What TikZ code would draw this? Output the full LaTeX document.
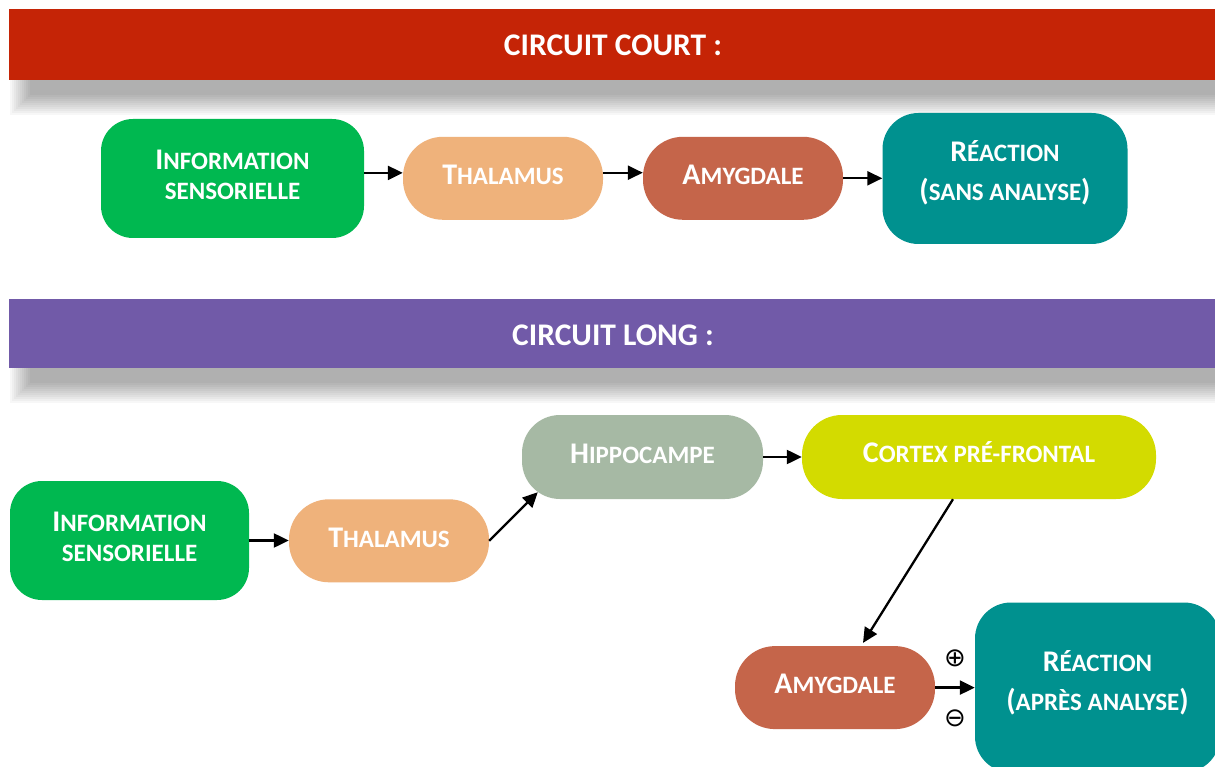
\documentclass[tikz,border=0pt]{standalone}
\usepackage{fontspec}
\setmainfont{Carlito}
\newfontfamily\symfont{DejaVu Sans}
\usetikzlibrary{arrows.meta}
\definecolor{bred}{HTML}{C52406}
\definecolor{bpurple}{HTML}{715AA8}
\definecolor{cgreen}{HTML}{00B850}
\definecolor{cthal}{HTML}{EFB27B}
\definecolor{camyg}{HTML}{C5654A}
\definecolor{cteal}{HTML}{00918F}
\definecolor{chippo}{HTML}{A6B9A4}
\definecolor{ccortex}{HTML}{D3DB00}
\newcommand\sk[1]{{\fontsize{25}{25}\selectfont #1}}
\begin{document}
\begin{tikzpicture}[x=1pt,y=-1pt,
  box/.style={rounded corners=#1, text=white, inner sep=0pt, align=center,
    text depth=7pt, font=\fontsize{30}{30}\selectfont\bfseries},
  box/.default=35pt,
  banner/.style={inner sep=0pt, text=white, font=\fontsize{31.5}{31.5}\selectfont\bfseries},
  arr/.style={line width=2.3pt, -{Triangle[length=15pt,width=14pt]}},
  sign/.style={font=\symfont\fontsize{26}{26}\selectfont, inner sep=0pt}]
\useasboundingbox (0,0) rectangle (1215,767);
\clip (0,0) rectangle (1215,767);
\fill[white] (0,0) rectangle (1215,767);
% shadows
\foreach \d in {-10,-8,...,10} {
  \fill[black, opacity=0.033] ({20+\d},{34+\d}) rectangle ({1235-\d},{105-\d});
  \fill[black, opacity=0.033] ({20+\d},{324+\d}) rectangle ({1235-\d},{393-\d});
}
% banners
\fill[bred] (9,9) rectangle (1218,80);
\node[banner] (b1) at (613,45) {CIRCUIT COURT :};
\fill[bpurple] (9,299) rectangle (1218,368);
\node[banner] (b2) at (613,335) {CIRCUIT LONG :};
% short circuit
\node[box=32pt, fill=cgreen, minimum width=263pt, minimum height=119pt] (i1) at (232.5,178.5)
  {I\sk{NFORMATION}\\\sk{SENSORIELLE}};
\node[box=40pt, fill=cthal, minimum width=200pt, minimum height=83pt] (t1) at (503,178.3)
  {T\sk{HALAMUS}};
\node[box=40pt, fill=camyg, minimum width=200pt, minimum height=83pt] (a1) at (743,178.3)
  {A\sk{MYGDALE}};
\node[box=36pt, fill=cteal, minimum width=245pt, minimum height=131pt, text depth=15pt] (r1) at (1005,178.5)
  {R\sk{ÉACTION}\\[9pt](\sk{SANS ANALYSE})};
\draw[arr] ([yshift=5.6pt]i1.east) -- ([yshift=5.6pt]i1.east -| t1.west);
\draw[arr] ([yshift=5.6pt]t1.east) -- ([yshift=5.6pt]a1.west);
\draw[arr] (a1.east) -- (a1.east -| r1.west);
% long circuit
\node[box=32pt, fill=cgreen, minimum width=239pt, minimum height=119pt] (i2) at (129.5,540.5)
  {I\sk{NFORMATION}\\\sk{SENSORIELLE}};
\node[box=40pt, fill=cthal, minimum width=200pt, minimum height=83pt] (t2) at (389,540.8)
  {T\sk{HALAMUS}};
\node[box=38pt, fill=chippo, minimum width=241pt, minimum height=84pt] (h2) at (642.5,457)
  {H\sk{IPPOCAMPE}};
\node[box=40pt, fill=ccortex, minimum width=354pt, minimum height=84pt, text depth=11pt] (c2) at (979,457)
  {C\sk{ORTEX PRÉ-FRONTAL}};
\node[box=40pt, fill=camyg, minimum width=200pt, minimum height=83pt] (a2) at (835,687.6)
  {A\sk{MYGDALE}};
\node[box=36pt, fill=cteal, minimum width=245pt, minimum height=170pt, text depth=14pt] (r2) at (1097.5,687.5)
  {R\sk{ÉACTION}\\[9pt](\sk{APRÈS ANALYSE})};
\coordinate (hin) at ([xshift=16pt,yshift=7pt]h2.south west);
\coordinate (cout) at ([xshift=-26pt]c2.south);
\coordinate (ain) at ([xshift=28pt,yshift=3pt]a2.north);
\draw[arr] (i2.east) -- (i2.east -| t2.west);
\draw[arr] (t2.east) -- (hin);
\draw[arr] (h2.east) -- (c2.west);
\draw[arr] (cout) -- (ain);
\draw[arr] (a2.east) -- (a2.east -| r2.west);
\node[sign] (plus) at (955,658) {⊕};
\node[sign] (minus) at (955,718) {⊖};
\end{tikzpicture}
\end{document}
